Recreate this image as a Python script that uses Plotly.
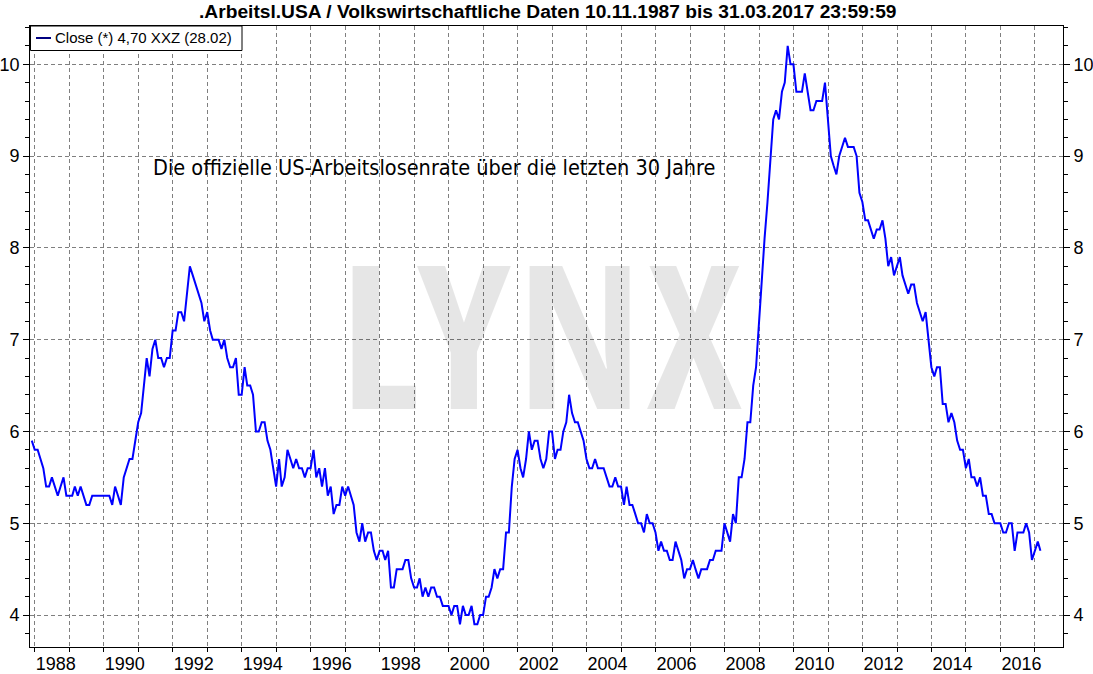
import pandas as pd
import plotly.graph_objects as go

# ---- data: monthly US unemployment rate (first release), Nov 1987 .. Feb 2017
y1987 = [5.9, 5.8]
y1988 = [5.8, 5.7, 5.6, 5.4, 5.4, 5.5, 5.4, 5.3, 5.4, 5.5, 5.3, 5.3]
y1989 = [5.3, 5.4, 5.3, 5.4, 5.3, 5.2, 5.2, 5.3, 5.3, 5.3, 5.3, 5.3]
y1990 = [5.3, 5.3, 5.2, 5.4, 5.3, 5.2, 5.5, 5.6, 5.7, 5.7, 5.9, 6.1]
y1991 = [6.2, 6.5, 6.8, 6.6, 6.9, 7.0, 6.8, 6.8, 6.7, 6.8, 6.8, 7.1]
y1992 = [7.1, 7.3, 7.3, 7.2, 7.5, 7.8, 7.7, 7.6, 7.5, 7.4, 7.2, 7.3]
y1993 = [7.1, 7.0, 7.0, 7.0, 6.9, 7.0, 6.8, 6.7, 6.7, 6.8, 6.4, 6.4]
y1994 = [6.7, 6.5, 6.5, 6.4, 6.0, 6.0, 6.1, 6.1, 5.9, 5.8, 5.6, 5.4]
y1995 = [5.7, 5.4, 5.5, 5.8, 5.7, 5.6, 5.7, 5.6, 5.6, 5.5, 5.6, 5.6]
y1996 = [5.8, 5.5, 5.6, 5.4, 5.6, 5.3, 5.4, 5.1, 5.2, 5.2, 5.4, 5.3]
y1997 = [5.4, 5.3, 5.2, 4.9, 4.8, 5.0, 4.8, 4.9, 4.9, 4.7, 4.6, 4.7]
y1998 = [4.7, 4.6, 4.7, 4.3, 4.3, 4.5, 4.5, 4.5, 4.6, 4.6, 4.4, 4.3]
y1999 = [4.3, 4.4, 4.2, 4.3, 4.2, 4.3, 4.3, 4.2, 4.2, 4.1, 4.1, 4.1]
y2000 = [4.0, 4.1, 4.1, 3.9, 4.1, 4.0, 4.0, 4.1, 3.9, 3.9, 4.0, 4.0]
y2001 = [4.2, 4.2, 4.3, 4.5, 4.4, 4.5, 4.5, 4.9, 4.9, 5.4, 5.7, 5.8]
y2002 = [5.6, 5.5, 5.7, 6.0, 5.8, 5.9, 5.9, 5.7, 5.6, 5.7, 6.0, 6.0]
y2003 = [5.7, 5.8, 5.8, 6.0, 6.1, 6.4, 6.2, 6.1, 6.1, 6.0, 5.9, 5.7]
y2004 = [5.6, 5.6, 5.7, 5.6, 5.6, 5.6, 5.5, 5.4, 5.4, 5.5, 5.4, 5.4]
y2005 = [5.2, 5.4, 5.2, 5.2, 5.1, 5.0, 5.0, 4.9, 5.1, 5.0, 5.0, 4.9]
y2006 = [4.7, 4.8, 4.7, 4.7, 4.6, 4.6, 4.8, 4.7, 4.6, 4.4, 4.5, 4.5]
y2007 = [4.6, 4.5, 4.4, 4.5, 4.5, 4.5, 4.6, 4.6, 4.7, 4.7, 4.7, 5.0]
y2008 = [4.9, 4.8, 5.1, 5.0, 5.5, 5.5, 5.7, 6.1, 6.1, 6.5, 6.7, 7.2]
y2009 = [7.6, 8.1, 8.5, 8.9, 9.4, 9.5, 9.4, 9.7, 9.8, 10.2, 10.0, 10.0]
y2010 = [9.7, 9.7, 9.7, 9.9, 9.7, 9.5, 9.5, 9.6, 9.6, 9.6, 9.8, 9.4]
y2011 = [9.0, 8.9, 8.8, 9.0, 9.1, 9.2, 9.1, 9.1, 9.1, 9.0, 8.6, 8.5]
y2012 = [8.3, 8.3, 8.2, 8.1, 8.2, 8.2, 8.3, 8.1, 7.8, 7.9, 7.7, 7.8]
y2013 = [7.9, 7.7, 7.6, 7.5, 7.6, 7.6, 7.4, 7.3, 7.2, 7.3, 7.0, 6.7]
y2014 = [6.6, 6.7, 6.7, 6.3, 6.3, 6.1, 6.2, 6.1, 5.9, 5.8, 5.8, 5.6]
y2015 = [5.7, 5.5, 5.5, 5.4, 5.5, 5.3, 5.3, 5.1, 5.1, 5.0, 5.0, 5.0]
y2016 = [4.9, 4.9, 5.0, 5.0, 4.7, 4.9, 4.9, 4.9, 5.0, 4.9, 4.6, 4.7]
y2017 = [4.8, 4.7]

first_month = "1987-11"
last_month = "2017-02"

x_tick_years = [1988, 1990, 1992, 1994, 1996, 1998, 2000, 2002, 2004, 2006,
                2008, 2010, 2012, 2014, 2016]
y_tick_vals = [4, 5, 6, 7, 8, 9, 10]

title_text = ".Arbeitsl.USA / Volkswirtschaftliche Daten 10.11.1987 bis 31.03.2017 23:59:59"
legend_text = "Close (*) 4,70 XXZ (28.02)"
note_text = "Die offizielle US-Arbeitslosenrate über die letzten 30 Jahre"
watermark_letters = ["L", "Y", "N", "X"]

values = (y1987 + y1988 + y1989 + y1990 + y1991 + y1992 + y1993 + y1994 + y1995
          + y1996 + y1997 + y1998 + y1999 + y2000 + y2001 + y2002 + y2003 + y2004
          + y2005 + y2006 + y2007 + y2008 + y2009 + y2010 + y2011 + y2012 + y2013
          + y2014 + y2015 + y2016 + y2017)
dates = pd.period_range(first_month, last_month, freq="M").to_timestamp(how="end").normalize()
assert len(dates) == len(values)

# ---- geometry (pixels)
W, H = 1093, 674
L, R, T, B = 30, 30, 26, 27
PW = W - L - R
PH = H - T - B


def px(xp):
    return (xp - L) / PW


def py(yp):
    return (H - B - yp) / PH


BLUE = "#0000ff"
GRID = "#7f7f7f"
FONT = "Liberation Sans, Arial, sans-serif"
WM_FONT = ("Noto Sans Condensed, Open Sans Condensed, Roboto Condensed, "
           "DejaVu Sans Condensed, Liberation Sans Narrow, Liberation Sans")

fig = go.Figure()
fig.add_trace(go.Scatter(x=dates, y=values, mode="lines",
                         line=dict(color=BLUE, width=2), showlegend=False,
                         hoverinfo="x+y"))
fig.add_trace(go.Scatter(x=dates, y=values, mode="lines", yaxis="y2",
                         line=dict(color=BLUE, width=0), opacity=0,
                         showlegend=False, hoverinfo="skip"))

xr = ["1987-11-11", "2017-10-25"]
yr = [3.652, 10.417]

fig.update_layout(
    width=W, height=H,
    margin=dict(l=L, r=R, t=T, b=B, autoexpand=False),
    paper_bgcolor="white", plot_bgcolor="white",
    font=dict(family=FONT, size=18, color="black"),
    xaxis=dict(
        type="date", range=xr, automargin=False,
        tickmode="array",
        tickvals=[f"{y}-01-01" for y in x_tick_years],
        ticktext=[str(y) for y in x_tick_years],
        ticklabelshift=21, ticklabelstandoff=-4,
        ticks="outside", ticklen=4, tickcolor="black",
        showgrid=True, gridcolor=GRID, griddash="4px,3px", gridwidth=1,
        minor=dict(dtick="M12", tick0="1988-01-01", showgrid=True,
                   gridcolor=GRID, griddash="4px,3px", gridwidth=1,
                   ticks="outside", ticklen=4, tickcolor="black"),
        showline=True, linecolor="black", linewidth=1, mirror=True,
        zeroline=False, tickfont=dict(size=18),
    ),
    yaxis=dict(
        range=yr, tickvals=y_tick_vals, automargin=False,
        ticks="outside", ticklen=6, tickcolor="black",
        showgrid=True, gridcolor=GRID, griddash="4px,3px", gridwidth=1,
        minor=dict(dtick=0.2, tick0=4, ticks="outside", ticklen=4,
                   tickcolor="black", showgrid=False),
        showline=True, linecolor="black", linewidth=1, mirror=True,
        zeroline=False, tickfont=dict(size=18),
    ),
    yaxis2=dict(
        range=yr, tickvals=y_tick_vals, overlaying="y", side="right",
        automargin=False,
        ticks="outside", ticklen=6, tickcolor="black",
        minor=dict(dtick=0.2, tick0=4, ticks="outside", ticklen=4,
                   tickcolor="black"),
        showgrid=False, showline=False, zeroline=False,
        tickfont=dict(size=18),
    ),
    showlegend=False,
)

# watermark, one letter at a time (translucent so the curve stays visible)
letter_centers = [380, 464, 579, 694]
for ch, cx in zip(watermark_letters, letter_centers):
    fig.add_annotation(text=ch, xref="paper", yref="paper",
                       x=px(cx), y=py(331.5), xanchor="center", yanchor="middle",
                       showarrow=False,
                       font=dict(family=WM_FONT, size=200,
                                 color="rgba(0,0,0,0.098)", weight="bold"))

# title
fig.add_annotation(text="<b>" + title_text + "</b>", xref="paper", yref="paper",
                   x=px(548), y=py(12), xanchor="center", yanchor="middle",
                   showarrow=False, font=dict(family=FONT, size=19.2, color="black"))

# text note
fig.add_annotation(text=note_text, xref="paper", yref="paper",
                   x=px(151), y=py(167), xanchor="left", yanchor="middle",
                   showarrow=False,
                   font=dict(family="DejaVu Sans Condensed, Open Sans, sans-serif",
                             size=21.5, color="black"))

# legend box
fig.add_shape(type="rect", xref="paper", yref="paper",
              x0=px(30.5), x1=px(242), y0=py(50.5), y1=py(26),
              line=dict(color="black", width=1), fillcolor="white", layer="above")
fig.add_shape(type="line", xref="paper", yref="paper",
              x0=px(36), x1=px(51), y0=py(38), y1=py(38),
              line=dict(color="#000080", width=2), layer="above")
fig.add_annotation(text=legend_text, xref="paper", yref="paper",
                   x=px(53), y=py(38), xanchor="left", yanchor="middle",
                   showarrow=False, font=dict(family=FONT, size=15, color="black"))

fig.write_html("out.html", config={"displayModeBar": False},
               post_script="document.body.style.margin='0px';document.body.style.padding='0px';")
